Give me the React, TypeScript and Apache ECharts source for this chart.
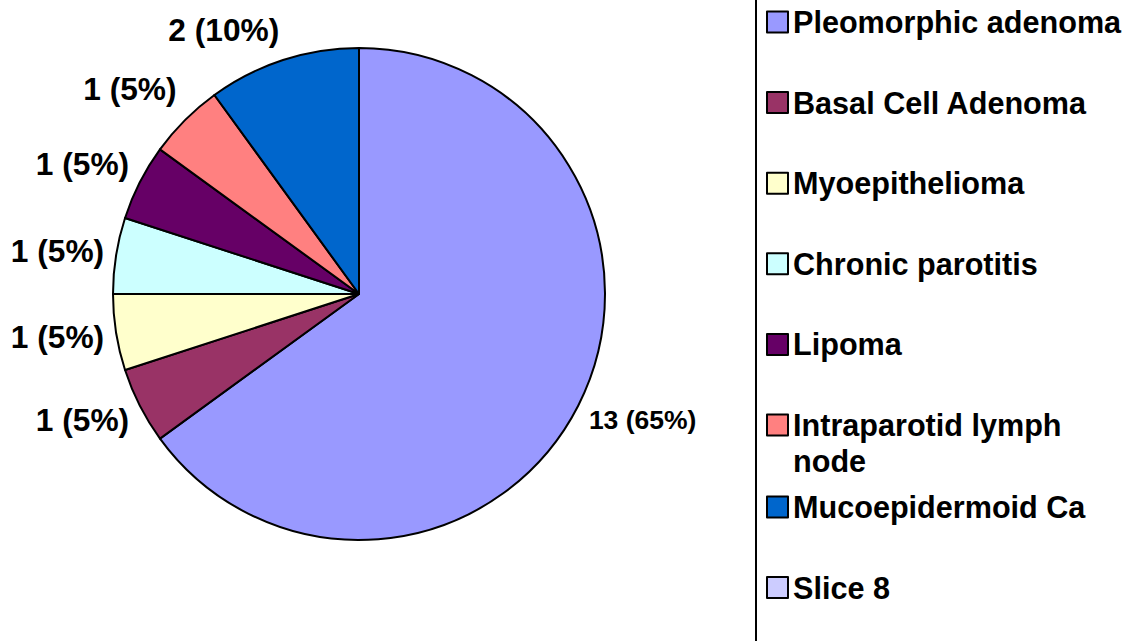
import React, { useEffect, useRef } from "react";
import * as echarts from "echarts";

const categories = [
  "Pleomorphic adenoma",
  "Basal Cell Adenoma",
  "Myoepithelioma",
  "Chronic parotitis",
  "Lipoma",
  "Intraparotid lymph node",
  "Mucoepidermoid Ca",
  "Slice 8",
];
const counts = [13, 1, 1, 1, 1, 1, 2, 0];
const legendLabels = [
  "Pleomorphic adenoma",
  "Basal Cell Adenoma",
  "Myoepithelioma",
  "Chronic parotitis",
  "Lipoma",
  "\nIntraparotid lymph\nnode",
  "Mucoepidermoid Ca",
  "Slice 8",
];
const colors = ["#9999FF", "#993366", "#FFFFCC", "#CCFFFF", "#660066", "#FF8080", "#0066CC", "#CCCCFF"];

const FONT = "'Liberation Sans', Arial, Helvetica, sans-serif";
const CX = 359;
const CY = 294;
const R = 246;

export default function App() {
  const ref = useRef<HTMLDivElement>(null);
  useEffect(() => {
    document.body.style.margin = "0";
    const chart = echarts.init(ref.current!, null, { renderer: "svg" });
    const total = counts.reduce((a, b) => a + b, 0);
    const mids: number[] = [];
    let acc = 0;
    counts.forEach((v) => {
      const start = 90 - (acc / total) * 360;
      acc += v;
      const end = 90 - (acc / total) * 360;
      mids.push((start + end) / 2);
    });
    const nameMap: Record<string, string> = {};
    categories.forEach((c, i) => (nameMap[c] = legendLabels[i]));

    const legendBase = {
      orient: "vertical",
      left: 766,
      padding: 0,
      itemWidth: 21,
      itemHeight: 21,
      itemGap: 44.6,
      icon: "rect",
      selectedMode: false,
      formatter: (n: string) => nameMap[n] ?? n,
      itemStyle: { borderColor: "#000", borderWidth: 2 },
      textStyle: {
        fontFamily: FONT,
        fontSize: 30.6,
        fontWeight: "bold",
        color: "#000",
        lineHeight: 36,
      },
    };

    chart.setOption({
      animation: false,
      backgroundColor: "#fff",
      legend: [
        { ...legendBase, top: 4, data: categories.slice(0, 5) },
        { ...legendBase, top: 371, data: categories.slice(5, 6) },
        { ...legendBase, top: 489, data: categories.slice(6) },
      ],
      graphic: [
        {
          type: "line",
          shape: { x1: 756, y1: 0, x2: 756, y2: 641 },
          style: { stroke: "#000", lineWidth: 2 },
        },
      ],
      series: [
        {
          type: "pie",
          center: [CX, CY],
          radius: R,
          startAngle: 90,
          clockwise: true,
          avoidLabelOverlap: false,
          percentPrecision: 0,
          emphasis: { disabled: true },
          itemStyle: { borderColor: "#000", borderWidth: 2 },
          label: {
            show: true,
            position: "outside",
            formatter: "{c} ({d}%)",
            fontFamily: FONT,
            fontSize: 31.7,
            fontWeight: "bold",
            color: "#000",
          },
          labelLine: { show: false },
          labelLayout: (p: any) => {
            const t = (mids[p.dataIndex] * Math.PI) / 180;
            const c = Math.cos(t);
            const s = Math.sin(t);
            const D = R + 12;
            const ax = CX + D * c;
            const ay = CY - D * s;
            return {
              x: ax,
              y: ay - 20 * s - 40 * Math.max(0, s * Math.abs(c) - 0.3),
              align: c < 0 ? "right" : "left",
              verticalAlign: "middle",
            };
          },
          data: categories.map((name, i) => ({
            name,
            value: counts[i],
            itemStyle: { color: colors[i] },
            label:
              counts[i] === 0
                ? { show: false }
                : i === 0
                ? { fontSize: 26.5 }
                : undefined,
          })),
        },
      ],
    });
    return () => chart.dispose();
  }, []);
  return <div ref={ref} style={{ width: 1128, height: 641 }} />;
}
